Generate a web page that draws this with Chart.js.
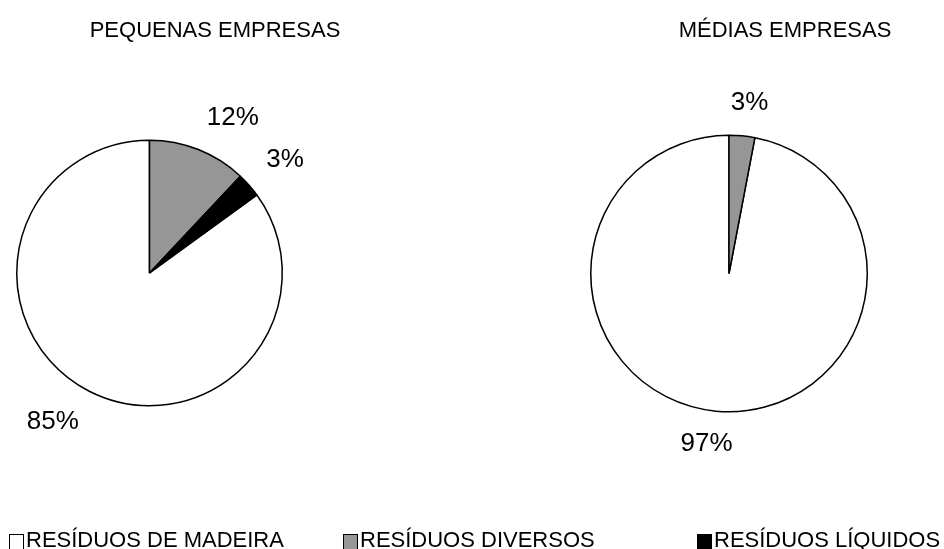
<!DOCTYPE html>
<html>
<head>
<meta charset="utf-8">
<script src="https://cdn.jsdelivr.net/npm/chart.js@4.4.1/dist/chart.umd.min.js"></script>
<style>
  html, body { margin: 0; padding: 0; background: #fff; }
  body { width: 944px; height: 549px; position: relative; overflow: hidden;
         font-family: "Liberation Sans", Arial, sans-serif; color: #000; }
  canvas { position: absolute; top: 0; }
  .titulo { position: absolute; top: 17px; font-size: 22px; line-height: 26px; white-space: nowrap; transform: translateX(-50%); }
  .leg { position: absolute; top: 528px; font-size: 22px; line-height: 23px; white-space: nowrap; }
  .leg i { display: inline-block; width: 13px; height: 14px; border: 1px solid #000; margin-right: 2px; vertical-align: -3px; }
</style>
</head>
<body>
<canvas id="pequenas" width="472" height="549" style="left:0"></canvas>
<canvas id="medias" width="472" height="549" style="left:472px"></canvas>
<div class="titulo" style="left:215px">PEQUENAS EMPRESAS</div>
<div class="titulo" style="left:785px">MÉDIAS EMPRESAS</div>
<div id="legenda"></div>
<script>
"use strict";

// categorias na ordem da legenda
const categorias = ["RESÍDUOS DE MADEIRA", "RESÍDUOS DIVERSOS", "RESÍDUOS LÍQUIDOS"];
const cores = ["#ffffff", "#969696", "#000000"];
const pequenas = [85, 12, 3];
const medias = [97, 3, 0];

const legendaLeft = [9, 343, 697];

// rotulos de percentagem fora da fatia
const rotulosPlugin = {
    id: "rotulos",
    afterDatasetsDraw(chart) {
        const ctx = chart.ctx;
        const meta = chart.getDatasetMeta(0);
        const valores = chart.data.datasets[0].data;
        ctx.save();
        ctx.font = '26px "Liberation Sans", Arial, sans-serif';
        ctx.fillStyle = "#000";
        ctx.textAlign = "center";
        ctx.textBaseline = "middle";
        meta.data.forEach((arc, i) => {
            if (!valores[i]) return;
            const { x, y, startAngle, endAngle, outerRadius } = arc.getProps(["x", "y", "startAngle", "endAngle", "outerRadius"], true);
            const a = (startAngle + endAngle) / 2;
            const texto = valores[i] + "%";
            const w = ctx.measureText(texto).width;
            const h = 20;
            const d = outerRadius + 23;
            const fx = Math.max(-1, Math.min(1, 3 * Math.cos(a)));
            const fy = Math.max(-1, Math.min(1, 3 * Math.sin(a)));
            ctx.fillText(texto, x + Math.cos(a) * d + fx * w / 2, y + Math.sin(a) * d + fy * h / 2);
        });
        ctx.restore();
    }
};

const criaPizza = (id, valores, padding) => {
    const ctx = document.getElementById(id).getContext("2d");
    return new Chart(ctx, {
        type: "pie",
        data: {
            labels: categorias,
            datasets: [{
                data: valores,
                backgroundColor: cores,
                borderColor: "#000",
                borderWidth: 1.5
            }]
        },
        options: {
            responsive: false,
            animation: false,
            rotation: -valores[0] * 3.6,
            layout: { padding: padding },
            plugins: {
                legend: { display: false },
                tooltip: { enabled: false }
            }
        },
        plugins: [rotulosPlugin]
    });
};

criaPizza("pequenas", pequenas, { left: 16, right: 189, top: 139.5, bottom: 142.5 });
criaPizza("medias", medias, { left: 118, right: 76, top: 134, bottom: 136 });

const legenda = document.getElementById("legenda");
categorias.forEach((nome, i) => {
    const item = document.createElement("div");
    item.className = "leg";
    item.style.left = legendaLeft[i] + "px";
    item.innerHTML = `<i style="background:${cores[i]}"></i>${nome}`;
    legenda.appendChild(item);
});
</script>
</body>
</html>
